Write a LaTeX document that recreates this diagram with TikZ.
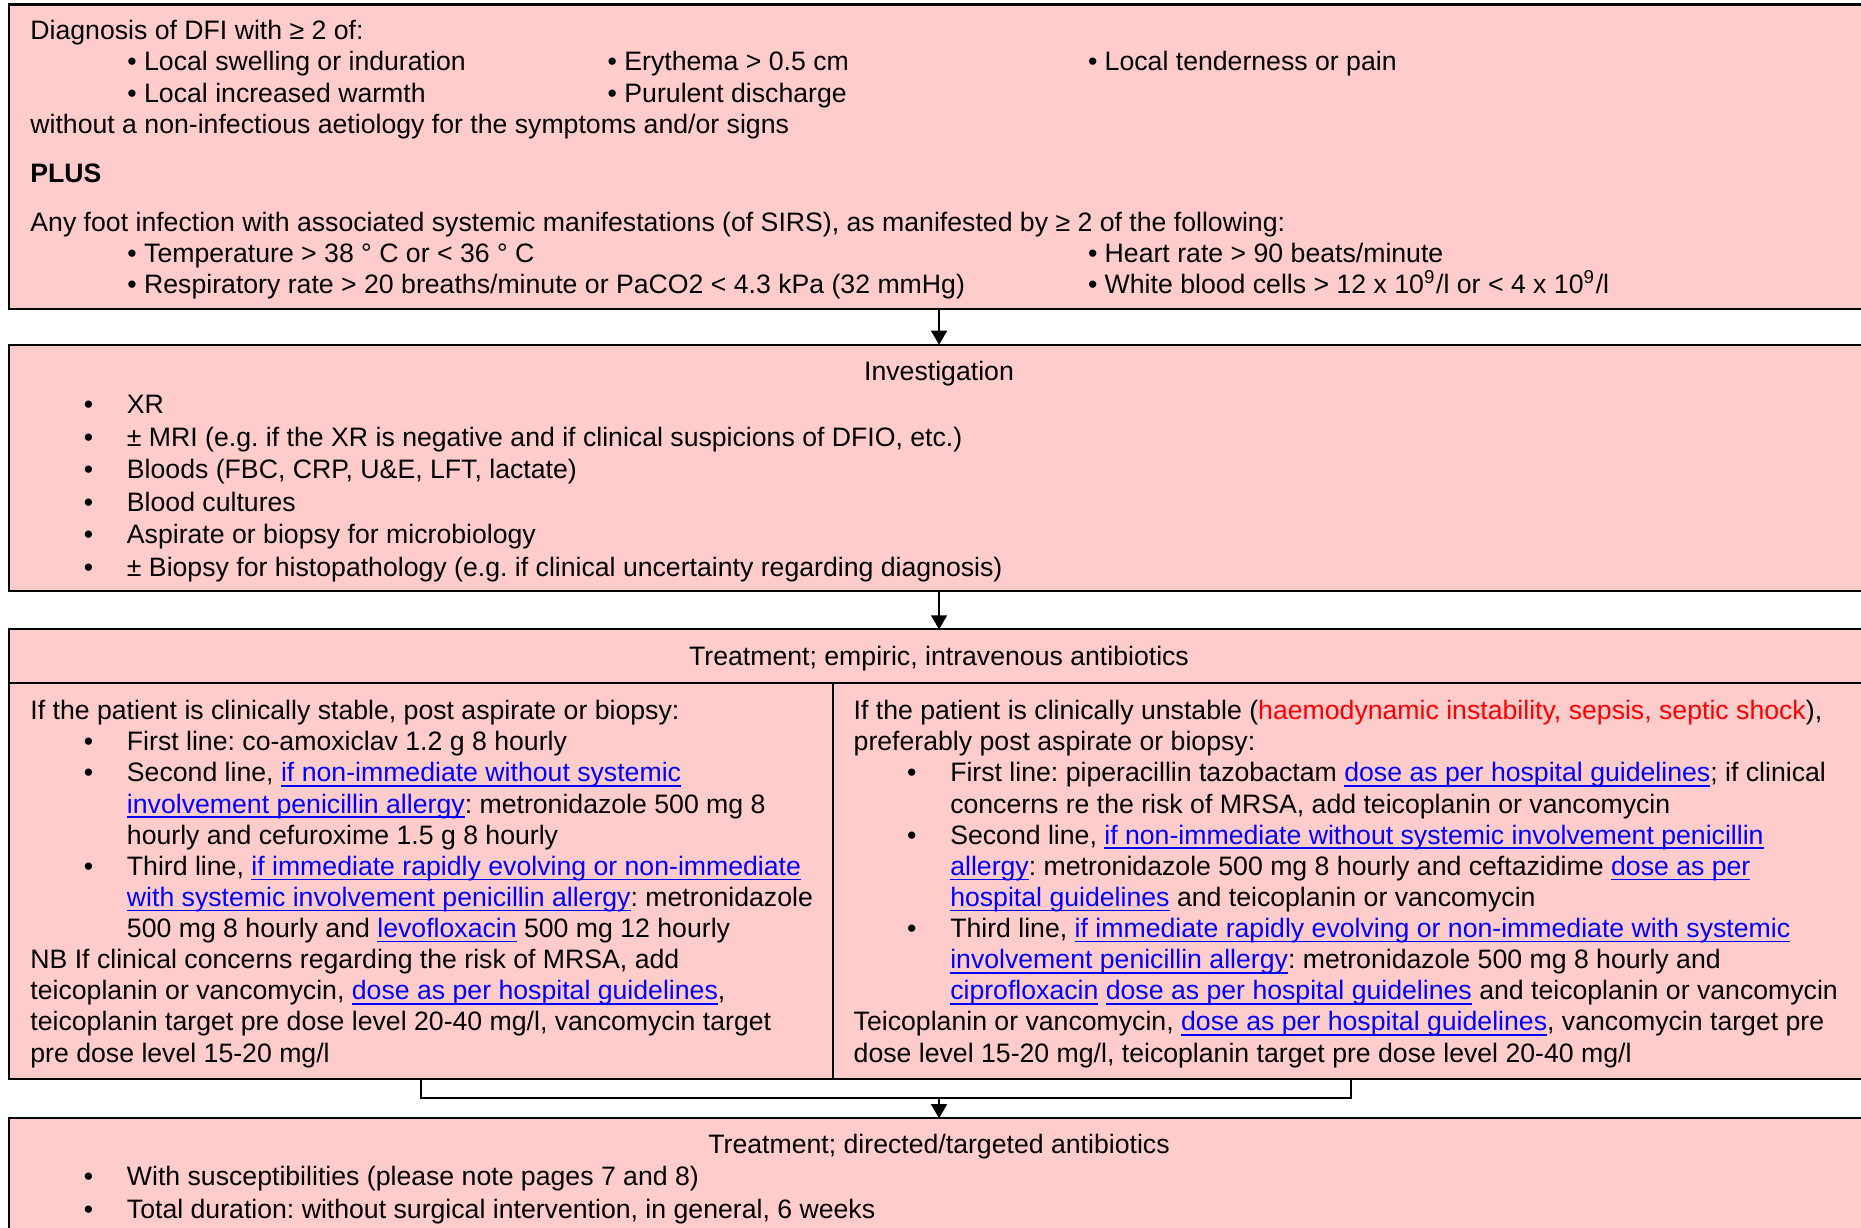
\documentclass[tikz,border=0pt]{standalone}
\usepackage{fontspec}
\setmainfont{Liberation Sans}
\usetikzlibrary{positioning, arrows.meta}

\definecolor{panelpink}{RGB}{255,204,204}
\definecolor{linkblue}{RGB}{0,0,255}
\definecolor{alertred}{RGB}{255,0,0}

% hyperlink look: blue, underlined at a fixed depth
\newcommand{\lnk}[1]{\textcolor{linkblue}{\setbox0=\hbox{#1}\rlap{\rule[-1.4pt]{\wd0}{0.45pt}}\box0}}
\newcommand{\bul}{\hspace*{0.535cm}\makebox[0.43cm][l]{\textbullet}}
\newcommand{\cont}{\hspace*{0.965cm}}
\newcommand{\tabi}{\hspace*{0.97cm}}
\frenchspacing

\begin{document}
\begin{tikzpicture}[x=0.01cm, y=-0.01cm]
		\tikzset{
			>={Triangle[width=4.5pt, length=4pt]},
			panel/.style={draw, fill=panelpink, line width=0.6pt, inner sep=0pt, outer sep=0pt, minimum width=18.59cm},
			txt/.style={anchor=base west, align=left, inner sep=0pt, font=\fontsize{7.58pt}{8.85pt}\selectfont},
			listtxt/.style={txt, font=\fontsize{7.58pt}{9.25pt}\selectfont},
			title/.style={anchor=base, inner sep=0pt, font=\fontsize{7.58pt}{8.85pt}\selectfont},
			link/.style={line width=0.6pt}
		}
		\useasboundingbox (0,0) rectangle (1861,1228);
		
		% Boxes
		\node[panel, anchor=north west, minimum height=3.045cm] (diag) at (9,4.5) {};
		\node[panel, below=0.355cm of diag, minimum height=2.465cm] (invest) {};
		\node[panel, below=0.38cm of invest, minimum height=0.54cm] (empiric) {};
		\node[panel, anchor=north west, minimum width=8.235cm, minimum height=3.95cm] (stable) at (empiric.south west) {};
		\node[panel, anchor=north west, minimum width=10.355cm, minimum height=3.95cm] (unstable) at (stable.north east) {};
		\node[panel, anchor=north west, minimum height=1.5cm] (directed) at ([yshift=-0.396cm]stable.south west) {};
		
		% Texts are placed by the baseline of their last line
		% Diagnosis
		\node[txt] (diagtext) at (29.7,293.7) {Diagnosis of DFI with ≥ 2 of:\\
			\tabi\makebox[4.8cm][l]{\textbullet\ Local swelling or induration}\makebox[4.8cm][l]{\textbullet\ Erythema > 0.5 cm}\textbullet\ Local tenderness or pain\\
			\tabi\makebox[4.8cm][l]{\textbullet\ Local increased warmth}\textbullet\ Purulent discharge\\
			without a non-infectious aetiology for the symptoms and/or signs\\[0.18cm]
			\textbf{PLUS}\\[0.18cm]
			Any foot infection with associated systemic manifestations (of SIRS), as manifested by ≥ 2 of the following:\\
			\tabi\makebox[9.6cm][l]{\textbullet\ Temperature > 38 ° C or < 36 ° C}\textbullet\ Heart rate > 90 beats/minute\\
			\tabi\makebox[9.6cm][l]{\textbullet\ Respiratory rate > 20 breaths/minute or PaCO2 < 4.3 kPa (32 mmHg)}\textbullet\ White blood cells > 12 x 10\textsuperscript{9}/l or < 4 x 10\textsuperscript{9}/l};
		
		% Investigation
		\node[title] (investtitle) at (939,380.5) {Investigation};
		\node[listtxt] (investlist) at (29.7,576.5) {\bul XR\\
			\bul ± MRI (e.g. if the XR is negative and if clinical suspicions of DFIO, etc.)\\
			\bul Bloods (FBC, CRP, U\&E, LFT, lactate)\\
			\bul Blood cultures\\
			\bul Aspirate or biopsy for microbiology\\
			\bul ± Biopsy for histopathology (e.g. if clinical uncertainty regarding diagnosis)};
		
		% Empiric treatment
		\node[title] (emptitle) at (939,665.5) {Treatment; empiric, intravenous antibiotics};
		\node[txt] (stabletext) at (29.7,1062) {If the patient is clinically stable, post aspirate or biopsy:\\
			\bul First line: co-amoxiclav 1.2 g 8 hourly\\
			\bul Second line, \lnk{if non-immediate without systemic}\\
			\cont\lnk{involvement penicillin allergy}: metronidazole 500 mg 8\\
			\cont hourly and cefuroxime 1.5 g 8 hourly\\
			\bul Third line, \lnk{if immediate rapidly evolving or non-immediate}\\
			\cont\lnk{with systemic involvement penicillin allergy}: metronidazole\\
			\cont 500 mg 8 hourly and \lnk{levofloxacin} 500 mg 12 hourly\\
			NB If clinical concerns regarding the risk of MRSA, add\\
			teicoplanin or vancomycin, \lnk{dose as per hospital guidelines},\\
			teicoplanin target pre dose level 20-40 mg/l, vancomycin target\\
			pre dose level 15-20 mg/l};
		\node[txt] (unstabletext) at (853,1062) {If the patient is clinically unstable (\textcolor{alertred}{haemodynamic instability, sepsis, septic shock}),\\
			preferably post aspirate or biopsy:\\
			\bul First line: piperacillin tazobactam \lnk{dose as per hospital guidelines}; if clinical\\
			\cont concerns re the risk of MRSA, add teicoplanin or vancomycin\\
			\bul Second line, \lnk{if non-immediate without systemic involvement penicillin}\\
			\cont\lnk{allergy}: metronidazole 500 mg 8 hourly and ceftazidime \lnk{dose as per}\\
			\cont\lnk{hospital guidelines} and teicoplanin or vancomycin\\
			\bul Third line, \lnk{if immediate rapidly evolving or non-immediate with systemic}\\
			\cont\lnk{involvement penicillin allergy}: metronidazole 500 mg 8 hourly and\\
			\cont\lnk{ciprofloxacin} \lnk{dose as per hospital guidelines} and teicoplanin or vancomycin\\
			Teicoplanin or vancomycin, \lnk{dose as per hospital guidelines}, vancomycin target pre\\
			dose level 15-20 mg/l, teicoplanin target pre dose level 20-40 mg/l};
		
		% Directed treatment
		\node[title] (dirtitle) at (939,1153) {Treatment; directed/targeted antibiotics};
		\node[listtxt] (dirlist) at (29.7,1218.5) {\bul With susceptibilities (please note pages 7 and 8)\\
			\bul Total duration: without surgical intervention, in general, 6 weeks};
		
		% Draw arrows between boxes
		\coordinate (join) at ([yshift=0.2cm]directed.north);
		\draw[link, ->] (diag) -- (invest);
		\draw[link, ->] (invest) -- (empiric);
		\draw[link] (stable) |- (join) -| (unstable);
		\draw[link, ->] (join) -- (directed);
		
	\end{tikzpicture}
\end{document}
